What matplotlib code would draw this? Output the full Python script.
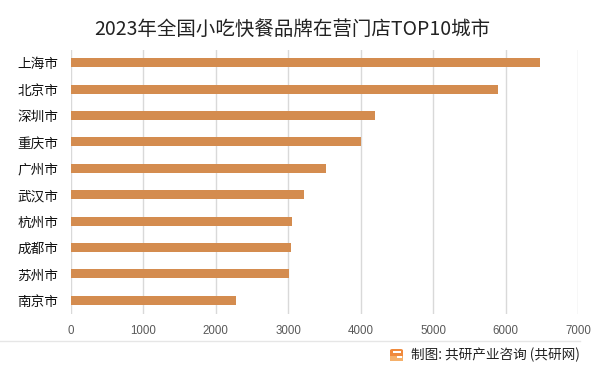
import matplotlib
matplotlib.use("Agg")
import matplotlib.pyplot as plt
from matplotlib.patches import FancyBboxPatch, Rectangle
from matplotlib.lines import Line2D

plt.rcParams['font.family'] = ['Noto Sans CJK SC', 'DejaVu Sans']

cities = ["上海市", "北京市", "深圳市", "重庆市", "广州市", "武汉市", "杭州市", "成都市", "苏州市", "南京市"]
stores = [6470, 5890, 4200, 4000, 3520, 3220, 3050, 3040, 3010, 2280]
xticks = [0, 1000, 2000, 3000, 4000, 5000, 6000, 7000]
title = "2023年全国小吃快餐品牌在营门店TOP10城市"
footer = "制图: 共研产业咨询 (共研网)"

W, H = 600, 374
fig = plt.figure(figsize=(6.0, 3.74), dpi=100)
fig.patch.set_facecolor("white")

ax = fig.add_axes([70.7 / W, 1 - 313.5 / H, (578 - 70.7) / W, (313.5 - 49.5) / H])
ypos = list(range(len(cities)))
ax.barh(ypos, stores, height=0.34, color="#D48C4F", zorder=3)
ax.set_ylim(len(cities) - 0.5, -0.5)
ax.set_xlim(0, 7000)
ax.set_xticks(xticks)
ax.set_xticklabels([str(t) for t in xticks], fontsize=8.3, color="#595959",
                   family=['Liberation Sans', 'DejaVu Sans'])
ax.set_yticks(ypos)
ax.set_yticklabels(cities, fontsize=9.8, color="#111111")
ax.tick_params(axis='x', length=0, pad=8)
ax.tick_params(axis='y', length=0, pad=9)
ax.grid(axis='x', color="#D9D9D9", linewidth=1.0, zorder=0)
for s in ax.spines.values():
    s.set_visible(False)

fig.text(292 / W, 1 - 29 / H, title, ha='center', va='center', fontsize=14, color="#222222")

# footer separator line
fig.add_artist(Line2D([0, 580 / W], [1 - 341 / H, 1 - 341 / H], color="#E6E6E6", linewidth=1.0))

# logo
fig.add_artist(FancyBboxPatch((390 / W, 1 - 361 / H), 13 / W, 12 / H,
                              boxstyle="round,pad=0,rounding_size=0.004",
                              facecolor="#F08A3C", edgecolor="none", transform=fig.transFigure))
fig.add_artist(Rectangle((390 / W, 1 - 361 / H), 13 / W, 5 / H, facecolor="#F5B06A",
                         edgecolor="none", transform=fig.transFigure))
fig.add_artist(Rectangle((393 / W, 1 - 353 / H), 8 / W, 2 / H, facecolor="white",
                         edgecolor="none", transform=fig.transFigure))
fig.add_artist(Rectangle((396.5 / W, 1 - 358 / H), 5 / W, 2 / H, facecolor="white",
                         edgecolor="none", transform=fig.transFigure))

fig.text(580 / W, 1 - 355 / H, footer, ha='right', va='center', fontsize=9.8, color="#222222")

fig.savefig("out.png", dpi=100, facecolor="white")
